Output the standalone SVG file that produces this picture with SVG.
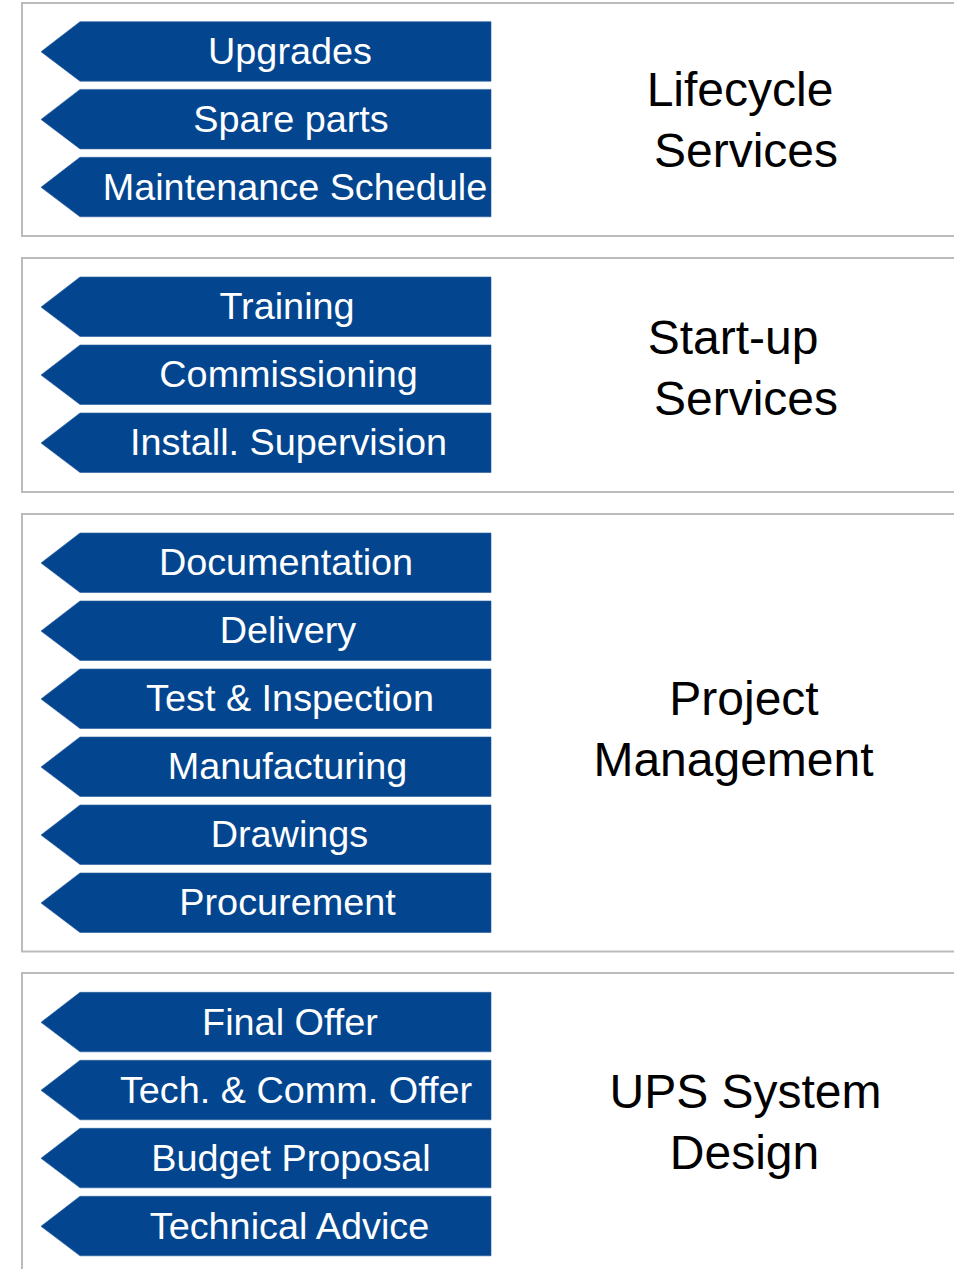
<svg xmlns="http://www.w3.org/2000/svg" width="954" height="1269" viewBox="0 0 954 1269">
<style>
.frame{fill:#FFFFFF;stroke:#BBBBBB;stroke-width:2}
.arrow{fill:#03468F;stroke:#2A5D9C;stroke-width:0.6}
.at{font-family:"Liberation Sans",Arial,sans-serif;font-size:37.8px;fill:#FFFFFF;text-anchor:middle}
.lt{font-family:"Liberation Sans",Arial,sans-serif;font-size:48px;fill:#000000;text-anchor:middle}
</style>
<defs>
<polygon id="arr" points="41,30 80,0 491,0 491,59.5 80,59.5"/>
</defs>
<rect width="954" height="1269" fill="#FFFFFF"/>

<g id="lifecycle">
<rect class="frame" x="22" y="3" width="960" height="233"/>
<g id="upgrades"><use href="#arr" class="arrow" y="21.7"/><text class="at" x="290" y="64">Upgrades</text></g>
<g id="spare-parts"><use href="#arr" class="arrow" y="89.4"/><text class="at" x="291" y="131.7">Spare parts</text></g>
<g id="maintenance"><use href="#arr" class="arrow" y="157.3"/><text class="at" x="295" y="199.6">Maintenance Schedule</text></g>
<text class="lt" x="740" y="106">Lifecycle</text>
<text class="lt" x="746" y="167">Services</text>
</g>

<g id="startup">
<rect class="frame" x="22" y="258" width="960" height="234"/>
<g id="training"><use href="#arr" class="arrow" y="277"/><text class="at" x="287" y="319.3">Training</text></g>
<g id="commissioning"><use href="#arr" class="arrow" y="345"/><text class="at" x="288.5" y="387.3">Commissioning</text></g>
<g id="install"><use href="#arr" class="arrow" y="413"/><text class="at" x="288.5" y="455.3">Install. Supervision</text></g>
<text class="lt" x="733" y="353.5">Start-up</text>
<text class="lt" x="746" y="414.5">Services</text>
</g>

<g id="project">
<rect class="frame" x="22" y="514" width="960" height="437.5"/>
<g id="documentation"><use href="#arr" class="arrow" y="533"/><text class="at" x="286" y="575.3">Documentation</text></g>
<g id="delivery"><use href="#arr" class="arrow" y="601"/><text class="at" x="288" y="643.3">Delivery</text></g>
<g id="test"><use href="#arr" class="arrow" y="669"/><text class="at" x="290" y="711.3">Test &amp; Inspection</text></g>
<g id="manufacturing"><use href="#arr" class="arrow" y="737"/><text class="at" x="287.5" y="779.3">Manufacturing</text></g>
<g id="drawings"><use href="#arr" class="arrow" y="805"/><text class="at" x="289.5" y="847.3">Drawings</text></g>
<g id="procurement"><use href="#arr" class="arrow" y="873"/><text class="at" x="287.5" y="915.3">Procurement</text></g>
<text class="lt" x="744" y="715">Project</text>
<text class="lt" x="733.5" y="776">Management</text>
</g>

<g id="ups">
<rect class="frame" x="22" y="973" width="960" height="320"/>
<g id="final-offer"><use href="#arr" class="arrow" y="992.3"/><text class="at" x="290" y="1034.6">Final Offer</text></g>
<g id="tech-comm"><use href="#arr" class="arrow" y="1060.3"/><text class="at" x="296" y="1102.6">Tech. &amp; Comm. Offer</text></g>
<g id="budget"><use href="#arr" class="arrow" y="1128.3"/><text class="at" x="291" y="1170.6">Budget Proposal</text></g>
<g id="technical-advice"><use href="#arr" class="arrow" y="1196.3"/><text class="at" x="289.5" y="1238.6">Technical Advice</text></g>
<text class="lt" x="745.5" y="1108">UPS System</text>
<text class="lt" x="744.5" y="1169">Design</text>
</g>
<g id="connectors"/>
</svg>
